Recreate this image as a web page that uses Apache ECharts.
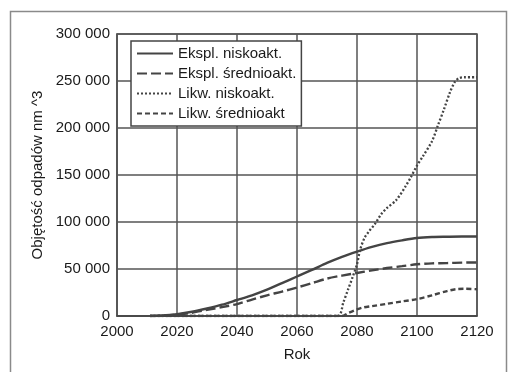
<!DOCTYPE html>
<html><head><meta charset="utf-8">
<script src="https://cdn.jsdelivr.net/npm/echarts@6/dist/echarts.min.js"></script>
<style>html,body{margin:0;padding:0;background:#fff}#c{width:511px;height:372px}</style>
</head><body><div id="c"></div>
<script>
var seriesNames = ['Ekspl. niskoakt.', 'Ekspl. średnioakt.', 'Likw. niskoakt.', 'Likw. średnioakt'];
var yTicks = [0, 50000, 100000, 150000, 200000, 250000, 300000];
var xTicks = [2000, 2020, 2040, 2060, 2080, 2100, 2120];

var yearsEN = [2011, 2015, 2020, 2025, 2030, 2035, 2040, 2045, 2050, 2055, 2060, 2065, 2070, 2075, 2080, 2085, 2090, 2095, 2100, 2105, 2110, 2115, 2120];
var valsEN  = [0, 500, 2000, 4500, 8000, 12000, 17000, 22000, 28000, 35000, 42000, 49000, 56500, 63000, 68500, 73500, 77500, 80500, 83000, 84000, 84300, 84500, 84500];

var yearsES = [2011, 2015, 2020, 2025, 2030, 2035, 2040, 2045, 2050, 2055, 2060, 2065, 2070, 2075, 2080, 2085, 2090, 2095, 2100, 2105, 2110, 2115, 2120];
var valsES  = [0, 400, 1500, 3500, 6500, 9500, 12700, 17500, 22000, 26000, 30300, 35000, 39800, 43000, 45800, 48500, 51000, 53000, 55000, 56000, 56300, 56800, 57000];

var yearsLN = [2011, 2073.5, 2075.5, 2077, 2078.5, 2080, 2081, 2082.5, 2084, 2086, 2088, 2090, 2093, 2096, 2098, 2100, 2102, 2105, 2107, 2109, 2111, 2112.6, 2114, 2116, 2120];
var valsLN  = [0, 0, 15000, 28000, 41000, 55000, 70000, 83000, 90000, 98000, 108000, 115000, 123000, 137000, 148000, 160000, 170000, 186000, 203000, 220000, 238000, 249000, 253000, 254000, 254000];

var yearsLS = [2011, 2075, 2077, 2080, 2082, 2085, 2090, 2095, 2100, 2105, 2110, 2113, 2116, 2120];
var valsLS  = [0, 0, 3000, 7000, 9000, 10500, 13000, 15500, 18000, 22000, 26500, 28500, 29000, 28500];

function pairs(xs, ys){ return xs.map(function(x,i){ return [x, ys[i]]; }); }
function fmt(v){ return String(v).replace(/\B(?=(\d{3})+(?!\d))/g, ' '); }

var lineColor = '#444';
var font = 'Liberation Sans, Arial, Helvetica, sans-serif';
var chart = echarts.init(document.getElementById('c'), null, {renderer:'canvas'});
var styles = [
  {type:'solid', width:2.4},
  {type:[10,4], width:2.4},
  {type:[2,2], width:2.3},
  {type:[5,3], width:2.4}
];
var datas = [pairs(yearsEN, valsEN), pairs(yearsES, valsES), pairs(yearsLN, valsLN), pairs(yearsLS, valsLS)];
var series = seriesNames.map(function(n,i){
  return {name:n, type:'line', data:datas[i], symbol:'none', smooth:0.3, z:5+i,
    lineStyle:{color:lineColor, type:styles[i].type, width:styles[i].width}, itemStyle:{color:lineColor}};
});
chart.setOption({
  animation:false,
  backgroundColor:'#fff',
  graphic:[{type:'rect', shape:{x:10.5, y:11.5, width:496, height:370}, style:{fill:null, stroke:'#8a8a8a', lineWidth:1.5}, z:-1}],
  grid:{left:117, right:34, top:34, bottom:56, show:true, borderColor:'#555', borderWidth:1.5},
  legend:{
    left:131, top:41, orient:'vertical', padding:[5,5,5,5], itemGap:5,
    backgroundColor:'#fff', borderColor:'#444', borderWidth:1.5,
    itemWidth:36, itemHeight:16,
    itemStyle:{color:'transparent', borderColor:'transparent', borderWidth:0, opacity:0},
    textStyle:{fontFamily:font, fontSize:15, color:'#1a1a1a'},
    data:seriesNames
  },
  xAxis:{type:'value', min:xTicks[0], max:xTicks[xTicks.length-1], interval:20,
    name:'Rok', nameLocation:'middle', nameGap:31,
    nameTextStyle:{fontFamily:font, fontSize:15, color:'#1a1a1a'},
    axisLine:{show:true, lineStyle:{color:'#444', width:1.5}}, axisTick:{show:false},
    axisLabel:{fontFamily:font, fontSize:15, color:'#1a1a1a', margin:8, formatter:function(v){return String(v);}},
    splitLine:{show:true, lineStyle:{color:'#555', width:1.5}}},
  yAxis:{type:'value', min:yTicks[0], max:yTicks[yTicks.length-1], interval:50000,
    name:'Objętość odpadów nm ^3', nameLocation:'middle', nameGap:70,
    nameTextStyle:{fontFamily:font, fontSize:15, color:'#1a1a1a'},
    axisLine:{show:true, lineStyle:{color:'#555', width:1.5}}, axisTick:{show:false},
    axisLabel:{fontFamily:font, fontSize:15, color:'#1a1a1a', margin:7, formatter:fmt},
    splitLine:{show:true, lineStyle:{color:'#555', width:1.5}}},
  series:series
});
</script></body></html>
